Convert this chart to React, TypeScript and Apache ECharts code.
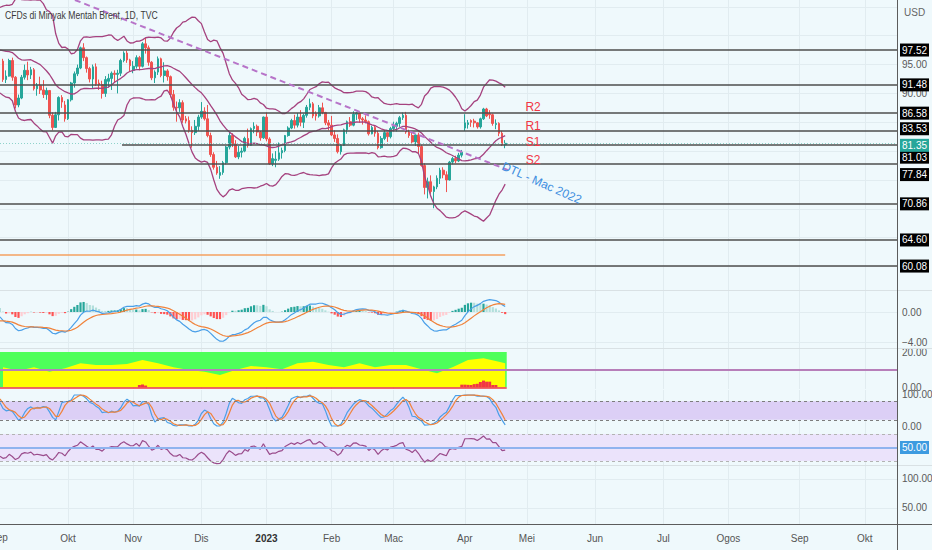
import React, { useEffect, useRef } from "react";
import * as echarts from "echarts";

// ---------------- data ----------------
const TITLE = "CFDs di Minyak Mentah Brent, 1D, TVC";

// Jul–Aug 2022 closes (left of the visible window, only feed the indicators)
const historyCloses = [
  111.6, 102.8, 100.7, 104.7, 107.0, 107.1, 99.5, 99.6, 99.1, 101.2, 106.3, 107.4, 106.9, 103.9, 103.2, 105.2,
  104.4, 106.6, 107.1, 104.0, 100.0, 100.5, 96.8, 94.1, 94.9, 96.7, 96.3, 97.4, 99.6, 98.2, 95.1, 92.3, 93.7,
  96.6, 96.7, 96.5, 100.2, 101.2, 99.3, 101.0, 105.1, 99.3, 95.6,
];

// daily candles Sep 2022 – Apr 2023: [open, close, low, high]
const candles: number[][] = [
  [95.6, 92.4, 92.0, 96.0], [92.4, 93.0, 91.8, 94.0], [93.0, 95.7, 92.9, 96.0], [95.7, 92.8, 92.2, 96.2], [92.8, 88.0, 87.4, 93.0],
  [88.0, 89.2, 87.6, 89.8], [89.2, 92.8, 89.0, 93.2], [92.8, 94.0, 92.4, 95.0], [94.0, 93.2, 92.3, 95.5], [93.2, 94.1, 92.5, 94.6],
  [94.1, 90.8, 90.5, 94.4], [90.8, 91.4, 89.6, 91.8], [91.4, 90.6, 89.9, 92.9], [90.6, 89.8, 89.2, 92.3], [89.8, 90.5, 88.9, 91.0],
  [90.5, 86.2, 85.7, 90.6], [86.2, 84.1, 83.6, 86.7], [84.1, 86.3, 84.0, 86.8], [86.3, 89.3, 85.3, 89.5], [89.3, 88.5, 87.5, 89.7],
  [88.0, 85.6, 85.1, 88.7], [85.6, 88.9, 85.4, 89.0], [88.9, 91.8, 88.6, 92.0], [91.8, 93.4, 91.0, 93.8], [93.4, 94.4, 93.0, 95.0],
  [94.4, 97.9, 94.2, 98.1], [97.9, 96.2, 95.6, 98.7], [96.2, 94.3, 93.6, 96.4], [94.3, 92.5, 91.9, 94.6], [92.5, 94.6, 90.9, 95.0],
  [94.6, 91.6, 91.3, 95.2], [91.8, 91.5, 90.6, 92.4], [91.5, 90.0, 89.1, 92.2], [90.0, 92.4, 89.4, 93.0], [92.1, 92.6, 91.0, 93.4],
  [92.6, 93.5, 90.6, 93.8], [93.5, 93.3, 91.8, 94.0], [93.3, 93.5, 90.0, 94.1], [93.5, 95.7, 93.0, 96.0], [95.7, 97.0, 95.4, 97.3],
  [97.0, 95.8, 95.3, 97.4], [95.8, 94.8, 93.8, 96.0], [94.0, 94.7, 93.5, 95.6], [94.7, 96.2, 94.3, 96.6], [96.2, 94.7, 94.0, 96.5],
  [94.7, 98.6, 94.5, 98.9], [98.6, 97.9, 96.9, 99.6], [97.9, 95.4, 94.8, 98.3], [95.4, 92.7, 92.3, 95.6], [92.7, 93.7, 91.8, 94.0],
  [93.7, 96.0, 93.2, 96.4], [96.0, 93.1, 92.8, 96.2], [93.1, 93.9, 91.9, 95.4], [93.9, 92.9, 92.2, 94.2], [92.9, 89.8, 89.3, 93.1],
  [89.8, 87.6, 87.0, 90.6], [87.6, 87.5, 85.1, 88.6], [87.5, 88.4, 86.8, 89.0], [88.4, 85.4, 84.9, 88.8], [85.6, 85.2, 84.8, 86.1],
  [85.3, 83.6, 83.2, 86.0], [83.6, 83.2, 80.6, 84.3], [83.2, 84.3, 82.8, 85.4], [84.3, 85.9, 83.5, 86.3], [85.9, 86.9, 85.6, 88.5],
  [86.9, 85.6, 85.3, 87.6], [85.6, 82.7, 82.4, 88.0], [82.7, 79.4, 79.0, 83.2], [79.4, 77.2, 76.8, 79.8], [77.2, 76.2, 75.9, 78.3],
  [75.8, 76.3, 75.2, 77.4], [76.3, 78.0, 75.9, 78.3], [78.0, 80.7, 77.7, 80.9], [80.7, 82.7, 80.3, 83.3], [82.7, 81.2, 80.7, 83.1],
  [81.2, 79.0, 78.8, 81.9], [79.0, 79.8, 78.6, 80.9], [79.8, 80.0, 78.9, 80.6], [80.0, 82.2, 79.8, 82.5], [82.2, 81.0, 80.6, 83.9],
  [81.0, 83.9, 80.9, 84.1], [83.9, 84.3, 83.1, 85.0], [84.3, 83.3, 82.6, 84.6], [83.3, 82.3, 81.8, 83.5], [82.3, 85.9, 82.1, 86.0],
  [85.9, 82.1, 81.7, 86.7], [82.1, 77.8, 77.6, 82.4], [77.8, 78.7, 77.4, 79.6], [78.4, 78.6, 77.2, 80.0], [78.6, 79.7, 78.3, 81.5],
  [79.7, 80.1, 78.7, 80.6], [80.1, 82.7, 79.8, 82.8], [82.7, 84.0, 82.5, 84.3], [84.0, 85.3, 83.8, 85.6], [85.3, 84.5, 83.9, 86.3],
  [84.5, 85.9, 84.1, 86.6], [85.9, 85.0, 84.3, 87.1], [85.0, 86.2, 84.0, 86.5], [86.2, 87.6, 85.8, 88.0], [87.6, 88.2, 87.1, 89.1],
  [88.2, 86.1, 85.7, 88.5], [86.5, 86.1, 85.3, 86.9], [86.1, 87.5, 85.8, 88.0], [87.5, 86.7, 86.4, 88.4], [86.7, 84.9, 84.5, 86.8],
  [84.9, 84.5, 83.6, 85.4], [84.5, 82.8, 82.6, 86.1], [82.8, 82.2, 81.6, 83.6], [82.2, 79.9, 79.6, 82.9], [79.9, 81.0, 79.4, 81.2],
  [81.0, 83.7, 80.9, 83.9], [83.7, 85.1, 83.0, 85.3], [85.1, 84.5, 84.2, 85.9], [84.5, 86.4, 84.3, 86.9], [86.4, 86.6, 85.4, 86.8],
  [86.6, 85.6, 84.9, 86.7], [85.6, 85.4, 84.6, 85.9], [85.4, 85.1, 84.8, 86.2], [85.1, 83.0, 82.7, 85.3], [83.0, 84.1, 82.9, 84.4],
  [84.1, 83.1, 82.5, 84.5], [83.1, 80.6, 80.3, 83.5], [80.6, 82.2, 80.4, 82.6], [82.2, 83.2, 81.9, 83.7], [83.2, 82.5, 81.6, 83.3],
  [82.5, 83.9, 82.2, 84.2], [83.9, 84.3, 83.4, 85.1], [84.3, 84.8, 83.4, 85.1], [84.8, 85.8, 84.2, 86.1], [85.8, 86.2, 85.4, 86.7],
  [86.2, 83.3, 83.0, 86.8], [83.3, 82.7, 82.3, 83.7], [82.7, 81.6, 81.3, 83.4], [81.6, 82.8, 80.9, 82.9], [82.8, 80.8, 79.6, 83.2],
  [80.8, 77.5, 77.3, 81.1], [77.5, 73.7, 72.5, 77.9], [73.7, 74.7, 71.8, 75.4], [74.7, 73.0, 72.6, 75.8], [73.0, 73.8, 70.1, 74.0],
  [73.8, 75.3, 73.4, 75.8], [75.3, 76.7, 74.3, 77.1], [76.7, 75.9, 75.3, 77.2], [75.9, 75.0, 72.9, 76.5], [75.0, 78.1, 74.9, 78.3],
  [78.1, 78.7, 77.7, 79.0], [78.7, 78.3, 77.9, 79.2], [78.3, 79.3, 78.1, 79.7], [79.3, 79.8, 78.9, 80.2], [84.0, 84.9, 83.5, 86.4],
  [84.6, 84.9, 83.9, 85.4], [85.3, 85.0, 84.2, 85.5], [85.2, 84.9, 84.1, 85.6], [84.9, 84.2, 83.9, 85.0], [84.2, 85.6, 83.9, 85.8],
  [85.6, 87.3, 85.4, 87.5], [87.3, 86.1, 85.9, 87.5], [86.5, 86.3, 85.6, 87.1], [86.3, 84.8, 84.4, 86.5], [84.6, 84.8, 83.8, 85.5],
  [84.8, 83.1, 82.6, 85.0], [83.1, 81.1, 80.9, 83.5], [81.1, 81.35, 80.5, 81.9],
];

// month ticks (bar index of first trading day) and their labels
const monthTicks = [21, 42, 64, 85, 106, 126, 149, 169, 191, 213, 234, 257, 278];
const monthNames = ["Okt", "Nov", "Dis", "2023", "Feb", "Mac", "Apr", "Mei", "Jun", "Jul", "Ogos", "Sep", "Okt"];

// horizontal levels drawn on the price pane
const levelLines = [97.52, 91.48, 86.58, 83.53, 77.84, 70.86, 64.6, 60.08];
const rayLevel = 81.03;
const rayStartIndex = 38.4;
const orangeLevel = 62.0;
const priceTicks = [60, 65, 70, 75, 80, 85, 90, 95, 100, 105];
const priceLabelTicks = [95, 90];

// S/R annotations
const srLabels = ["R2", "R1", "S1", "S2"];
const srPrices = [87.64, 84.35, 81.58, 78.46];
const srIndex = 171;
const trendStart = [23.2, 106.19];
const trendEnd = [163, 76.7];
const dtlText = "DTL - Mac 2022";
const dtlPos = [173.8, 74.47];

// green / yellow oscillator pane
const oscIdx = [0, 5, 10, 15, 20, 25, 30, 35, 40, 45, 50, 55, 60, 65, 70, 75, 80, 85, 90, 95, 100, 105, 110, 115, 120, 125, 130, 135, 140, 145, 150, 155, 160, 162];
const oscVals = [11.3, 9.4, 11.3, 8.8, 10.8, 13.6, 12.6, 12.6, 13.2, 15.5, 13.6, 11.3, 9.8, 8.8, 7.0, 9.8, 12.0, 11.3, 10.2, 13.6, 14.5, 12.6, 11.3, 13.6, 11.3, 12.6, 12.6, 10.2, 7.9, 11.3, 15.5, 16.4, 14.5, 13.6];
const oscTop = 20;
const oscMid = 10;
const redIdx = [44, 45, 46, 148, 149, 150, 151, 152, 153, 154, 155, 156, 157, 158, 159];
const redVals = [1.3, 1.6, 1.0, 1.5, 1.5, 1.4, 1.3, 1.8, 2.0, 3.0, 3.8, 3.2, 3.2, 1.3, 1.3];

// indicator settings
const BB_LEN = 20;
const BB_MULT = 2.5;

// ---------------- layout / style ----------------
const FONT = '"Liberation Sans", Arial, sans-serif';
const FS = 10;
const BG = "#eff9fc";
const UP = "#26a69a";
const DOWN = "#ef5350";
const X_MIN = -0.97;
const X_MAX = 288.4;
const PANES = [
  { top: 0, height: 290, min: 55.93, max: 106.19 },
  { top: 291, height: 57, min: -4.8, max: 2.8 },
  { top: 349, height: 40, min: -0.96, max: 21.7 },
  { top: 390, height: 40, min: -12.9, max: 116.1 },
  { top: 430, height: 35, min: 24.07, max: 75.9 },
  { top: 465, height: 59, min: 22.4, max: 124.1 },
];
const paneLabels = [priceLabelTicks, [0, -4], [20, 0], [100, 0], [] as number[], [100, 50]];
const paneSplits = [priceTicks, [0, -4], [] as number[], [] as number[], [] as number[], [100, 50]];
const tagNudge: Record<string, number> = { "83.53": -2, "77.84": 11 };

// ---------------- indicator helpers ----------------
function sma(src: (number | null)[], n: number): (number | null)[] {
  return src.map((_, i) => {
    if (i < n - 1) return null;
    let s = 0;
    for (let k = i - n + 1; k <= i; k++) {
      const v = src[k];
      if (v == null) return null;
      s += v;
    }
    return s / n;
  });
}
function stdev(src: number[], n: number): (number | null)[] {
  return src.map((_, i) => {
    if (i < n - 1) return null;
    let s = 0;
    for (let k = i - n + 1; k <= i; k++) s += src[k];
    const m = s / n;
    let q = 0;
    for (let k = i - n + 1; k <= i; k++) q += (src[k] - m) * (src[k] - m);
    return Math.sqrt(q / n);
  });
}
function ema(src: number[], n: number): number[] {
  const a = 2 / (n + 1);
  let prev: number | null = null;
  return src.map((v) => (prev = prev == null ? v : a * v + (1 - a) * prev));
}
function rsiCalc(src: number[], n: number): (number | null)[] {
  const out: (number | null)[] = [null];
  let up: number | null = null;
  let dn = 0;
  for (let i = 1; i < src.length; i++) {
    const ch = src[i] - src[i - 1];
    const u = Math.max(ch, 0);
    const d = Math.max(-ch, 0);
    if (up == null) {
      up = u;
      dn = d;
    } else {
      up = (up * (n - 1) + u) / n;
      dn = (dn * (n - 1) + d) / n;
    }
    out.push(dn === 0 ? 100 : 100 - 100 / (1 + up / dn));
  }
  return out;
}
function stochOf(src: (number | null)[], n: number): (number | null)[] {
  return src.map((v, i) => {
    if (v == null || i < n - 1) return null;
    let lo = Infinity;
    let hi = -Infinity;
    for (let k = i - n + 1; k <= i; k++) {
      const x = src[k];
      if (x == null) return null;
      lo = Math.min(lo, x);
      hi = Math.max(hi, x);
    }
    return hi === lo ? 50 : (100 * (v - lo)) / (hi - lo);
  });
}

function buildOption() {
  const H = historyCloses.length;
  const closes = historyCloses.concat(candles.map((c) => c[1]));
  const basis = sma(closes, BB_LEN);
  const dev = stdev(closes, BB_LEN);
  const e12 = ema(closes, 12);
  const e26 = ema(closes, 26);
  const macd = e12.map((v, i) => v - e26[i]);
  const signal = ema(macd, 9);
  const hist = macd.map((v, i) => v - signal[i]);
  const rsi = rsiCalc(closes, 14);
  const kLine = sma(stochOf(rsi, 14), 3);
  const dLine = sma(kLine, 3);

  const visible: number[] = [];
  for (let i = -1; i < candles.length; i++) visible.push(i);
  const pick = (arr: (number | null)[], f: (v: number, i: number) => number = (v) => v) =>
    visible.map((i) => {
      const v = arr[H + i];
      return [i, v == null ? null : f(v, H + i)];
    });

  const lastIndex = candles.length - 1;
  const lastClose = candles[lastIndex][1];

  const tag = (bg: string, dy = 0) => ({
    show: true,
    position: "end",
    distance: 3,
    formatter: (p: any) => Number(p.value).toFixed(2),
    color: "#ffffff",
    backgroundColor: bg,
    padding: [2, 2, 1, 2],
    fontSize: FS,
    fontFamily: FONT,
    offset: [0, dy],
  });
  const levelStyle = { color: "#4e4e4e", width: 1.6, type: "solid" };

  const priceMarkLines: any[] = [
    ...levelLines.map((v) => ({
      yAxis: v,
      lineStyle: levelStyle,
      label: tag("#000000", tagNudge[v.toFixed(2)] || 0),
    })),
    { yAxis: levelLines[0], lineStyle: { opacity: 0 }, label: tag("#000000", -15) },
    [
      { coord: [rayStartIndex, rayLevel], value: rayLevel, lineStyle: levelStyle, label: tag("#000000", 12) },
      { coord: [X_MAX, rayLevel] },
    ],
    [
      { coord: [X_MIN, orangeLevel], lineStyle: { color: "#f4a060", width: 1.5, type: "solid" }, label: { show: false } },
      { coord: [lastIndex, orangeLevel] },
    ],
    {
      yAxis: lastClose,
      lineStyle: { color: "#8fd3cb", width: 1, type: [1, 2] },
      label: tag("#26a69a", 2),
    },
    [
      { coord: trendStart, lineStyle: { color: "#b774c9", width: 2, type: [6, 4] }, label: { show: false } },
      { coord: trendEnd },
    ],
  ];

  const grid = PANES.map((p) => ({
    left: 0,
    right: 35,
    top: p.top,
    height: p.height,
    containLabel: false,
    outerBoundsMode: "none",
  }));

  const xAxis = PANES.map((_, k) => ({
    type: "value",
    gridIndex: k,
    min: X_MIN,
    max: X_MAX,
    axisLine: { show: false },
    axisTick: { show: false, customValues: monthTicks },
    splitLine: { show: true, lineStyle: { color: "#e1ecf0", width: 1 } },
    axisLabel:
      k === PANES.length - 1
        ? {
            show: true,
            customValues: monthTicks,
            margin: 9,
            color: "#555555",
            fontSize: FS,
            fontFamily: FONT,
            formatter: (v: number) => {
              const n = monthNames[monthTicks.indexOf(Math.round(v))] || "";
              return n === "2023" ? "{b|" + n + "}" : n;
            },
            rich: { b: { fontWeight: "bold", color: "#333333", fontSize: FS, fontFamily: FONT } },
          }
        : { show: false },
  }));

  const yAxis = PANES.map((p, k) => ({
    type: "value",
    gridIndex: k,
    position: "right",
    min: p.min,
    max: p.max,
    axisLine: { show: false },
    axisTick: { show: false, customValues: paneSplits[k] },
    splitLine: { show: paneSplits[k].length > 0, lineStyle: { color: "#e1ecf0", width: 1 } },
    axisLabel: {
      show: paneLabels[k].length > 0,
      customValues: paneLabels[k],
      margin: 5,
      color: "#5a5a5a",
      fontSize: FS,
      fontFamily: FONT,
      formatter: (v: number) => v.toFixed(2).replace("-", "\u2212"),
    },
  }));

  const lineBase = (xi: number, color: string, data: any[], width = 1.2, z = 4) => ({
    type: "line",
    xAxisIndex: xi,
    yAxisIndex: xi,
    data,
    showSymbol: false,
    symbol: "none",
    silent: true,
    z,
    lineStyle: { color, width },
    connectNulls: false,
  });

  const histData = visible.map((i) => {
    const h = hist[H + i];
    const prev = hist[H + i - 1];
    const color = h >= 0 ? (h >= prev ? "#26a69a" : "#b2dfdb") : h < prev ? "#ff5252" : "#ffcdd2";
    return { value: [i, h], itemStyle: { color } };
  });

  const series: any[] = [
    // price pane
    {
      type: "candlestick",
      xAxisIndex: 0,
      yAxisIndex: 0,
      z: 3,
      clip: false,
      silent: true,
      dimensions: ["idx", "open", "close", "lowest", "highest"],
      encode: { x: 0, y: [1, 2, 3, 4] },
      data: candles.map((c, i) => [i, c[0], c[1], c[2], c[3]]),
      barWidth: 2.2,
      itemStyle: { color: UP, color0: DOWN, borderColor: UP, borderColor0: DOWN, borderWidth: 1 },
      markLine: { silent: true, symbol: ["none", "none"], animation: false, data: priceMarkLines },
      markPoint: {
        silent: true,
        symbol: "rect",
        symbolSize: 1,
        itemStyle: { color: "rgba(0,0,0,0)" },
        label: {
          show: true,
          position: "inside",
          fontFamily: FONT,
          fontSize: 12,
          color: "#f23645",
          formatter: (p: any) => p.name,
        },
        data: [
          ...srLabels.map((t, k) => ({ name: t, coord: [srIndex, srPrices[k]] })),
          { name: dtlText, coord: dtlPos, label: { color: "#3d8ee0", rotate: -24, fontSize: 12 } },
        ],
      },
    },
    lineBase(0, "#a5427f", pick(basis, (v, j) => v + BB_MULT * (dev[j] as number)), 1.3),
    lineBase(0, "#a5427f", pick(basis), 1.3),
    lineBase(0, "#a5427f", pick(basis, (v, j) => v - BB_MULT * (dev[j] as number)), 1.3),

    // MACD pane
    { type: "bar", xAxisIndex: 1, yAxisIndex: 1, data: histData, barWidth: 2.2, silent: true, z: 2 },
    lineBase(1, "#4a9fe8", pick(macd)),
    lineBase(1, "#f0823a", pick(signal)),

    // oscillator pane: green background, yellow area below the boundary, red bars
    {
      type: "line",
      xAxisIndex: 2,
      yAxisIndex: 2,
      data: [],
      silent: true,
      z: 0,
      markArea: {
        silent: true,
        itemStyle: { color: "#4dff5a", opacity: 1 },
        data: [[{ coord: [X_MIN, 0] }, { coord: [lastIndex + 0.5, oscTop] }]],
      },
    },
    {
      type: "line",
      xAxisIndex: 2,
      yAxisIndex: 2,
      data: oscIdx.map((x, k) => [x, oscVals[k]]),
      showSymbol: false,
      symbol: "none",
      silent: true,
      z: 1,
      lineStyle: { width: 0, opacity: 0 },
      areaStyle: { color: "#ffff00", opacity: 1, origin: 0 },
    },
    {
      type: "bar",
      xAxisIndex: 2,
      yAxisIndex: 2,
      data: redIdx.map((x, k) => [x, redVals[k]]),
      barWidth: 3,
      silent: true,
      z: 3,
      itemStyle: { color: "#f23645" },
      markLine: {
        silent: true,
        symbol: ["none", "none"],
        label: { show: false },
        data: [
          { yAxis: oscMid, lineStyle: { color: "#b77fb9", width: 2, type: "solid" } },
          [
            { coord: [X_MIN, 0], lineStyle: { color: "#f23645", width: 1.5, type: "solid" } },
            { coord: [lastIndex + 0.5, 0] },
          ],
        ],
      },
    },

    // Stoch RSI pane
    {
      type: "line",
      xAxisIndex: 3,
      yAxisIndex: 3,
      data: [],
      silent: true,
      z: 1,
      markArea: { silent: true, itemStyle: { color: "#dccff6" }, data: [[{ yAxis: 20 }, { yAxis: 80 }]] },
      markLine: {
        silent: true,
        symbol: ["none", "none"],
        label: { show: false },
        lineStyle: { color: "#7d7d7d", width: 1, type: [3, 3] },
        data: [{ yAxis: 80 }, { yAxis: 20 }],
      },
    },
    lineBase(3, "#4a9fe8", pick(kLine)),
    lineBase(3, "#f0823a", pick(dLine)),

    // RSI pane
    {
      type: "line",
      xAxisIndex: 4,
      yAxisIndex: 4,
      data: [],
      silent: true,
      z: 1,
      markArea: { silent: true, itemStyle: { color: "#ebe3fb" }, data: [[{ yAxis: 30 }, { yAxis: 70 }]] },
      markLine: {
        silent: true,
        symbol: ["none", "none"],
        data: [
          { yAxis: 70, lineStyle: { color: "#b3b3b3", width: 1, type: [3, 3] }, label: { show: false } },
          { yAxis: 30, lineStyle: { color: "#b3b3b3", width: 1, type: [3, 3] }, label: { show: false } },
          { yAxis: 50, lineStyle: { color: "#8fb3ef", width: 2, type: "solid" }, label: tag("#3d9be0") },
        ],
      },
    },
    lineBase(4, "#9a4c8c", pick(rsi)),
  ];

  const sep = (y: number, color: string) => ({
    type: "line",
    silent: true,
    z: 50,
    shape: { x1: 0, y1: y, x2: 932, y2: y },
    style: { stroke: color, lineWidth: 1 },
  });

  return {
    animation: false,
    backgroundColor: BG,
    grid,
    xAxis,
    yAxis,
    series,
    graphic: [
      sep(290.5, "#d9e1e4"),
      sep(348.5, "#d9e1e4"),
      sep(465.5, "#d9e1e4"),
      sep(524.5, "#5c5c5c"),
      {
        type: "line",
        silent: true,
        z: 50,
        shape: { x1: 897.5, y1: 0, x2: 897.5, y2: 550 },
        style: { stroke: "#5c5c5c", lineWidth: 1 },
      },
      {
        type: "text",
        x: 5,
        y: 9,
        scaleX: 0.75,
        z: 60,
        style: { text: TITLE, fill: "#3a3a3a", fontSize: 11.5, fontFamily: FONT, textVerticalAlign: "top" },
      },
      {
        type: "text",
        x: 904,
        y: 7,
        z: 60,
        style: { text: "USD", fill: "#666666", fontSize: FS, fontFamily: FONT, textVerticalAlign: "top" },
      },
      {
        type: "text",
        x: -10,
        y: 532,
        z: 60,
        style: { text: "Sep", fill: "#555555", fontSize: FS, fontFamily: FONT, textVerticalAlign: "top" },
      },
    ],
  };
}

export default function App() {
  const ref = useRef<HTMLDivElement>(null);
  useEffect(() => {
    if (!ref.current) return;
    const chart = echarts.init(ref.current, null, { renderer: "svg" });
    chart.setOption(buildOption() as any);
    return () => chart.dispose();
  }, []);
  return <div ref={ref} style={{ position: "fixed", left: 0, top: 0, width: 932, height: 550 }} />;
}
